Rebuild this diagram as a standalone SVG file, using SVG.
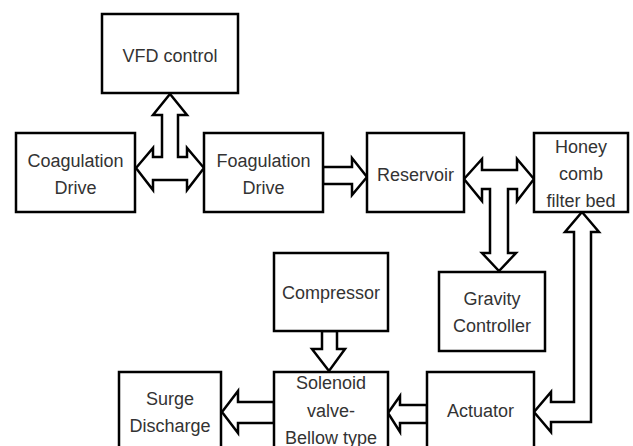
<svg xmlns="http://www.w3.org/2000/svg" width="633" height="446" viewBox="0 0 633 446">
<style>
.box{fill:#fff;stroke:#000;stroke-width:2.5}
.arr{fill:#fff;stroke:#000;stroke-width:2.5;stroke-linejoin:miter}
text{font-family:"Liberation Sans",Arial,sans-serif;font-size:18px;fill:#333;text-anchor:middle}
</style>
<rect width="633" height="446" fill="#fff"/>
<g id="connectors">
<polygon class="arr" points="136,168 153,148 153,157 162,157 162,115 153,115 170,94 187,115 178,115 178,157 187,157 187,148 204,168 187,190 187,180 153,180 153,190"/>
<polygon class="arr" points="323,167 352,167 352,158 367,177 352,195 352,184 323,184"/>
<polygon class="arr" points="464,179 482,159 482,170 517,170 517,159 534,179 517,201 517,189 508,189 508,253 516,253 499,271 482,253 490,253 490,189 482,189 482,201"/>
<polygon class="arr" points="582,212 599,232 591,232 591,422 551,422 551,432 534,412 551,392 551,402 574,402 574,232 565,232"/>
<polygon class="arr" points="322,331 337,331 337,349 345,349 329,371 312,349 322,349"/>
<polygon class="arr" points="427,405 400,405 400,396 388,413 400,432 400,423 427,423"/>
<polygon class="arr" points="274,402 238,402 238,391 222,412 238,433 238,423 274,423"/>
</g>
<g id="vfd"><rect class="box" x="102" y="14" width="136" height="79"/><text x="170" y="62">VFD control</text></g>
<g id="coagulation"><rect class="box" x="16" y="133" width="119" height="79"/><text x="75.5" y="167">Coagulation</text><text x="75.5" y="194">Drive</text></g>
<g id="foagulation"><rect class="box" x="204" y="133" width="119" height="79"/><text x="263.5" y="167">Foagulation</text><text x="263.5" y="194">Drive</text></g>
<g id="reservoir"><rect class="box" x="367" y="133" width="97" height="79"/><text x="415.5" y="181">Reservoir</text></g>
<g id="honeycomb"><rect class="box" x="534" y="133" width="94" height="79"/><text x="581" y="153">Honey</text><text x="581" y="180">comb</text><text x="581" y="207">filter bed</text></g>
<g id="gravity"><rect class="box" x="439" y="272" width="106" height="79"/><text x="492" y="305">Gravity</text><text x="492" y="332">Controller</text></g>
<g id="compressor"><rect class="box" x="274" y="253" width="114" height="78"/><text x="331" y="299">Compressor</text></g>
<g id="solenoid"><rect class="box" x="274" y="372" width="114" height="80"/><text x="331" y="389">Solenoid</text><text x="331" y="417">valve-</text><text x="331" y="444">Bellow type</text></g>
<g id="actuator"><rect class="box" x="427" y="372" width="107" height="80"/><text x="480.5" y="417">Actuator</text></g>
<g id="surge"><rect class="box" x="119" y="372" width="102" height="80"/><text x="170" y="405">Surge</text><text x="170" y="432">Discharge</text></g>
</svg>
